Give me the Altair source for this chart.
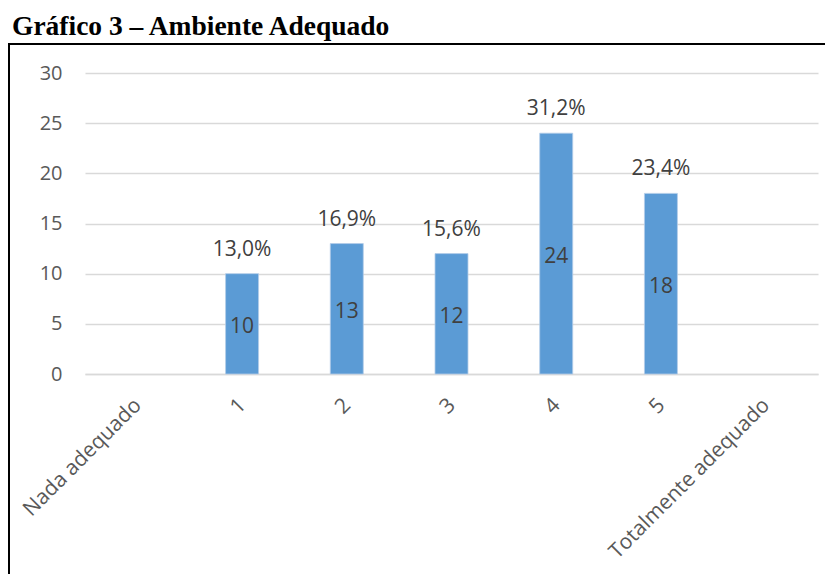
import altair as alt
import pandas as pd

categories = ["Nada adequado", "1", "2", "3", "4", "5", "Totalmente adequado"]
bar_categories = ["1", "2", "3", "4", "5"]
counts = [10, 13, 12, 24, 18]
percent_labels = ["13,0%", "16,9%", "15,6%", "31,2%", "23,4%"]
y_ticks = [0, 5, 10, 15, 20, 25, 30]
title_text = "Gráfico 3 – Ambiente Adequado"

df = pd.DataFrame({"cat": bar_categories, "n": counts, "pct": percent_labels})
df["half"] = df["n"] / 2

FONT = "Open Sans"

x = alt.X("cat:N", sort=categories,
          scale=alt.Scale(domain=categories, paddingInner=0.685, paddingOuter=0.3425, round=False),
          axis=alt.Axis(title=None, labelAngle=-45, labelAlign="right", labelBaseline="top",
                        labelPadding=20, labelOffset=-7, labelLimit=0, ticks=False,
                        domainColor="#d9d9d9", domainWidth=1.3,
                        labelFont=FONT, labelFontSize=21, labelColor="#595959", grid=False,
                        labelOverlap=False))

base = alt.Chart(df)

bars = base.mark_bar(color="#5b9bd5", stroke="#b4cde8", strokeWidth=0.8).encode(
    x=x,
    y=alt.Y("n:Q", scale=alt.Scale(domain=[0, 30], nice=False),
            axis=alt.Axis(title=None, values=y_ticks, domain=False, ticks=False,
                          labelPadding=23, gridColor="#d9d9d9", gridWidth=1.3,
                          labelFont=FONT, labelFontSize=20, labelColor="#595959")),
)

inner = base.mark_text(font=FONT, fontSize=21, color="#404040", baseline="middle", dy=3).encode(
    x=alt.X("cat:N", sort=categories), y=alt.Y("half:Q"), text="n:Q")

top = base.mark_text(font=FONT, fontSize=21, color="#404040", baseline="middle", dy=-24).encode(
    x=alt.X("cat:N", sort=categories), y=alt.Y("n:Q"), text="pct:N")

one = pd.DataFrame({"a": [0]})
border_left = alt.Chart(one).mark_rule(color="black", strokeWidth=2).encode(
    x=alt.value(-76), x2=alt.value(-76), y=alt.value(-30), y2=alt.value(600))
border_top = alt.Chart(one).mark_rule(color="black", strokeWidth=2).encode(
    x=alt.value(-77), x2=alt.value(800), y=alt.value(-29), y2=alt.value(-29))

title = alt.Chart(one).mark_text(font="Liberation Serif", fontSize=27.5, fontWeight="bold",
                                 color="black", align="left", baseline="alphabetic").encode(
    x=alt.value(-73), y=alt.value(-38), text=alt.value(title_text))

chart = alt.layer(bars, inner, top, border_left, border_top, title).properties(
    width=733, height=301,
    autosize=alt.AutoSizeParams(type="none"),
    padding={"left": 77, "top": 65, "right": 7, "bottom": 200},
).configure_view(stroke=None)

chart.save("out.html", embed_options={"renderer": "svg", "actions": False})
